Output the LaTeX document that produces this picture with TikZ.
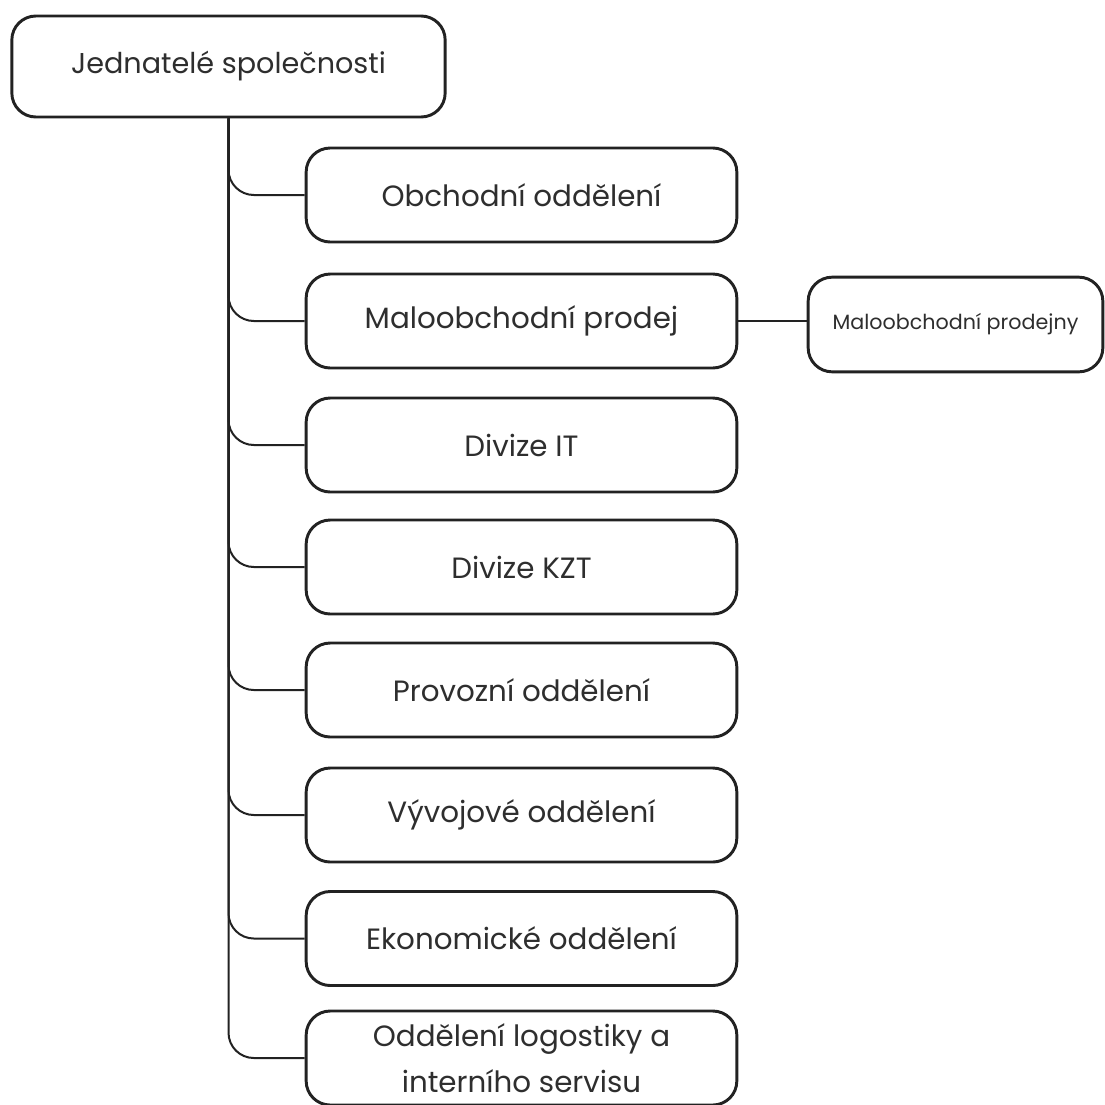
\documentclass[tikz,border=0pt]{standalone}
\usepackage{fontspec}
\setmainfont{Poppins}
\usetikzlibrary{positioning}
\definecolor{ink}{HTML}{222222}
\definecolor{txt}{HTML}{2E2E2E}
\begin{document}
\begin{tikzpicture}[x=0.75pt,y=-0.75pt,
  unit/.style={draw=ink,line width=2.2pt,rounded corners=18pt,fill=white,
    minimum width=323pt,minimum height=70.5pt,inner sep=0pt,text=txt,
    font=\fontsize{22}{34}\selectfont,align=center},
  headbox/.style={unit,minimum width=325pt,minimum height=75.75pt,font=\fontsize{21.5}{30}\selectfont},
  smallbox/.style={unit,minimum width=221pt,minimum height=71pt,font=\fontsize{15.5}{18}\selectfont},
  link/.style={draw=ink,line width=1.5pt,rounded corners=19pt}]
\useasboundingbox (0,0) rectangle (1105,1104);
\node[headbox] (top) at (228.5,66.5) {Jednatelé společnosti};
\node[unit] (b1) at (521.5,195) {Obchodní oddělení};
\node[unit] (b2) at (521.5,321) {Maloobchodní prodej};
\node[unit] (b3) at (521.5,445) {Divize IT};
\node[unit] (b4) at (521.5,567) {Divize KZT};
\node[unit] (b5) at (521.5,690) {Provozní oddělení};
\node[unit] (b6) at (521.5,815) {Vývojové oddělení};
\node[unit] (b7) at (521.5,938.5) {Ekonomické oddělení};
\node[unit] (b8) at (521.5,1058) {Oddělení logostiky a\\interního servisu};
\node[smallbox] (r1) at (955.5,324.5) {Maloobchodní prodejny};
\foreach \b in {b1,b2,b3,b4,b5,b6,b7,b8}
  \draw[link] (top.south) |- (\b.west);
\draw[link] (b2.east) -- (b2.east -| r1.west);
\end{tikzpicture}
\end{document}
